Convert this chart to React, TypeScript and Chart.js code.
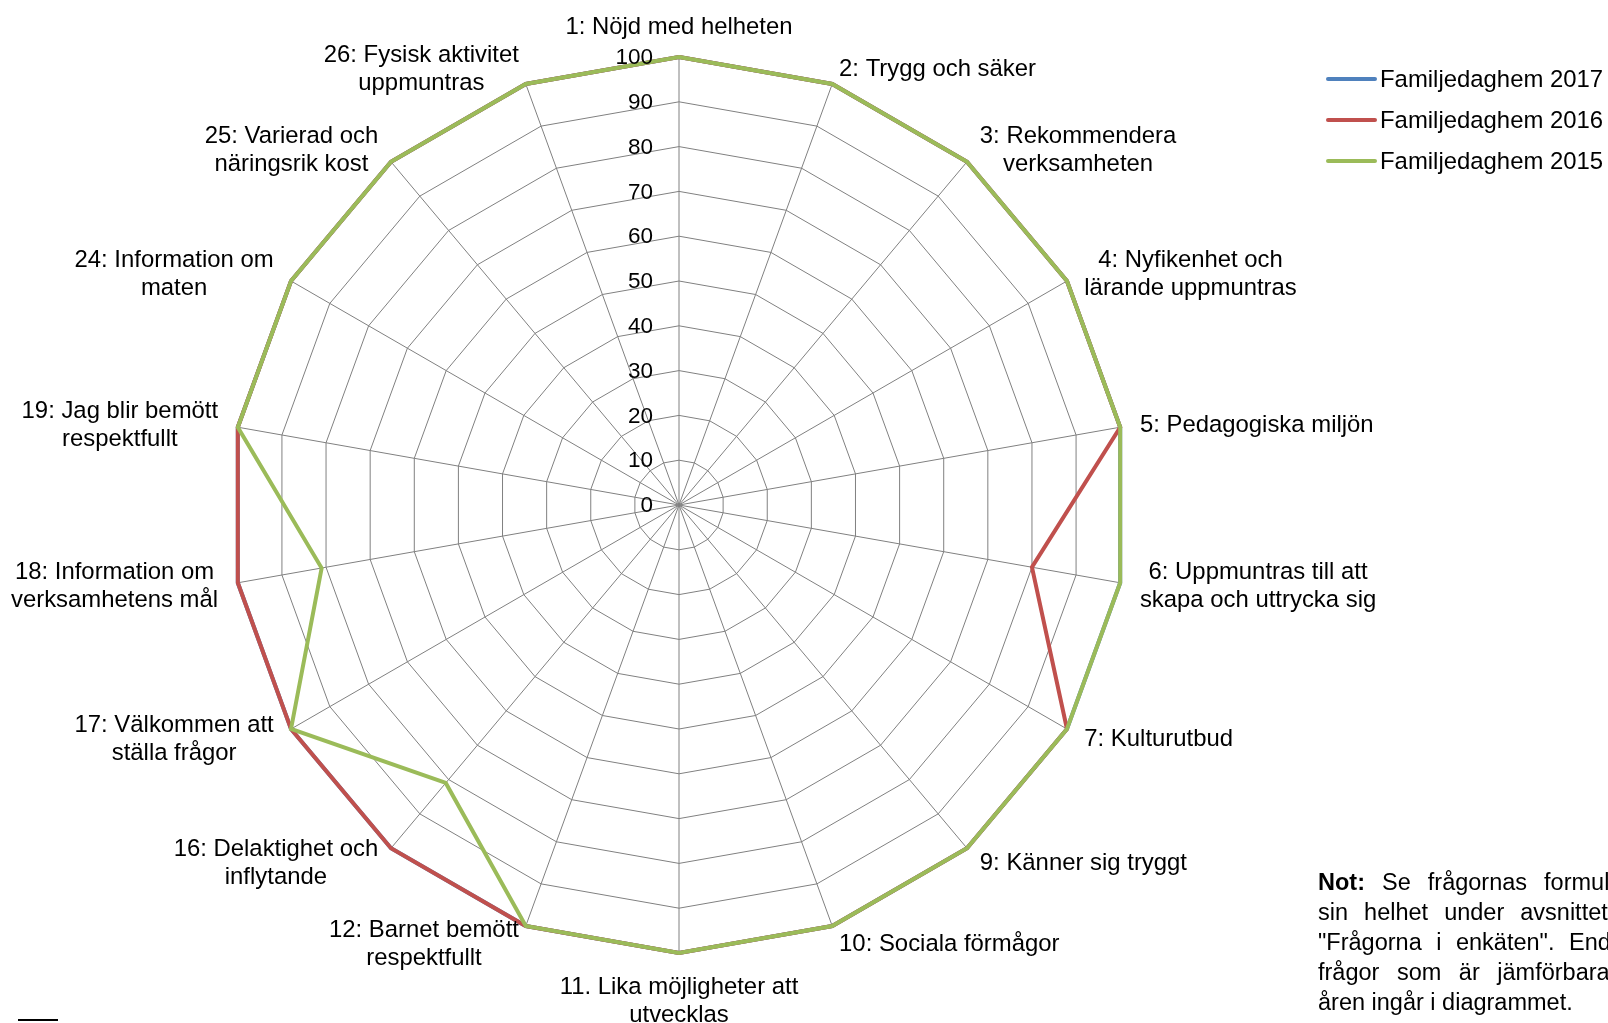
import React, { useEffect, useRef } from "react";
import { Chart, registerables } from "chart.js";

Chart.register(...registerables);

const FONT = "'Liberation Sans', Arial, sans-serif";

const categories: (string | string[])[] = [
  "1: Nöjd med helheten",
  "2: Trygg och säker",
  ["3: Rekommendera", "verksamheten"],
  ["4: Nyfikenhet och", "lärande uppmuntras"],
  "5: Pedagogiska miljön",
  ["6: Uppmuntras till att", "skapa och uttrycka sig"],
  "7: Kulturutbud",
  "9: Känner sig tryggt",
  "10: Sociala förmågor",
  ["11. Lika möjligheter att", "utvecklas"],
  ["12: Barnet bemött", "respektfullt"],
  ["16: Delaktighet och", "inflytande"],
  ["17: Välkommen att", "ställa frågor"],
  ["18: Information om", "verksamhetens mål"],
  ["19: Jag blir bemött", "respektfullt"],
  ["24: Information om", "maten"],
  ["25: Varierad och", "näringsrik kost"],
  ["26: Fysisk aktivitet", "uppmuntras"],
];

const values2017 = [100, 100, 100, 100, 100, 100, 100, 100, 100, 100, 100, 100, 100, 100, 100, 100, 100, 100];
const values2016 = [100, 100, 100, 100, 100, 80, 100, 100, 100, 100, 100, 100, 100, 100, 100, 100, 100, 100];
const values2015 = [100, 100, 100, 100, 100, 100, 100, 100, 100, 100, 100, 81, 100, 81, 100, 100, 100, 100];

const seriesNames = ["Familjedaghem 2017", "Familjedaghem 2016", "Familjedaghem 2015"];
const seriesColors = ["#4F81BD", "#C0504D", "#9BBB59"];
const seriesValues = [values2017, values2016, values2015];

const tickValues = [0, 10, 20, 30, 40, 50, 60, 70, 80, 90, 100];

const noteLines: React.ReactNode[] = [
  <><b>Not:</b> Se frågornas formuleringar i</>,
  "sin helhet under avsnittet",
  "\"Frågorna i enkäten\". Endast",
  "frågor som är jämförbara mellan",
  "åren ingår i diagrammet.",
];
const noteWordSpacing = [10.5, 9.5, 8, 11, 0];

const LABEL_FONT_SIZE = 23.9;
const NOTE_FONT_SIZE = 23.5;
const TICK_FONT_SIZE = 22.5;
const LINE_H = 28;

const labelPlugin = {
  id: "customRadarLabels",
  afterDraw(chart: any) {
    const scale = chart.scales.r;
    const ctx = chart.ctx as CanvasRenderingContext2D;
    ctx.save();
    ctx.fillStyle = "#000";
    ctx.font = `${TICK_FONT_SIZE}px ${FONT}`;
    ctx.textAlign = "right";
    ctx.textBaseline = "middle";
    tickValues.forEach((v) => {
      const d = scale.getDistanceFromCenterForValue(v);
      ctx.fillText(String(v), scale.xCenter - 26, scale.yCenter - d + 1);
    });
    ctx.font = `${LABEL_FONT_SIZE}px ${FONT}`;
    ctx.textAlign = "center";
    categories.forEach((lab, i) => {
      const lines = Array.isArray(lab) ? lab : [lab];
      const px = scale.getPointPosition(i, scale.drawingArea + 20);
      const upper = px.y < scale.yCenter - 1;
      const py = upper ? scale.getPointPosition(i, scale.drawingArea + 17) : px;
      const ax = px.x;
      const ay = upper ? py.y + 1.5 : py.y;
      const h = lines.length * LINE_H;
      const w = Math.max(...lines.map((l) => ctx.measureText(l).width));
      const dx = ax - scale.xCenter;
      let cx: number;
      let top: number;
      if (Math.abs(dx) < 2) {
        cx = ax;
        top = ay < scale.yCenter ? ay - h : ay;
      } else if (dx > 0) {
        cx = ax + w / 2;
        top = ay - h / 2;
      } else {
        cx = ax - w / 2;
        top = ay - h / 2;
      }
      lines.forEach((l, k) => ctx.fillText(l, cx, top + LINE_H * k + LINE_H / 2));
    });
    ctx.restore();
  },
};

export default function App() {
  const ref = useRef<HTMLCanvasElement | null>(null);

  useEffect(() => {
    if (!ref.current) return;
    const chart = new Chart(ref.current, {
      type: "radar",
      data: {
        labels: categories,
        datasets: seriesNames.map((name, i) => ({
          label: name,
          data: seriesValues[i],
          borderColor: seriesColors[i],
          backgroundColor: seriesColors[i],
          borderWidth: 4,
          fill: false,
          pointRadius: 0,
          pointHoverRadius: 0,
          order: seriesNames.length - 1 - i,
        })),
      },
      options: {
        animation: false,
        responsive: false,
        devicePixelRatio: 1,
        layout: { padding: { left: 231, right: 481, top: 57, bottom: 70 } },
        plugins: { legend: { display: false }, tooltip: { enabled: false } },
        scales: {
          r: {
            min: 0,
            max: 100,
            ticks: { display: false, stepSize: 10 },
            pointLabels: { display: false },
            grid: { color: "#808080", lineWidth: 1 },
            angleLines: { color: "#808080", lineWidth: 1 },
          },
        },
      },
      plugins: [labelPlugin],
    } as any);
    return () => chart.destroy();
  }, []);

  const textStyle: React.CSSProperties = {
    fontFamily: FONT,
    fontSize: `${LABEL_FONT_SIZE}px`,
    color: "#000",
    whiteSpace: "nowrap",
  };

  return (
    <div style={{ position: "fixed", left: 0, top: 0, width: "100vw", height: "100vh", overflow: "hidden", background: "#fff" }}>
      <canvas ref={ref} width={1608} height={1023} style={{ position: "absolute", left: 0, top: 0, display: "block" }} />
      {seriesNames.map((name, i) => (
        <div key={name} style={{ position: "absolute", left: 1326, top: 79 + i * 41 - 15, height: 30, display: "flex", alignItems: "center" }}>
          <div style={{ width: 51, height: 4, borderRadius: 2, background: seriesColors[i] }} />
          <div style={{ ...textStyle, marginLeft: 3, lineHeight: "30px" }}>{name}</div>
        </div>
      ))}
      <div style={{ position: "absolute", left: 1318, top: 867, lineHeight: "30px", ...textStyle, fontSize: `${NOTE_FONT_SIZE}px` }}>
        {noteLines.map((l, i) => (
          <div key={i} style={{ wordSpacing: `${noteWordSpacing[i]}px` }}>{l}</div>
        ))}
      </div>
      <div style={{ position: "absolute", left: 18, top: 1019, width: 40, height: 2, background: "#000" }} />
    </div>
  );
}
